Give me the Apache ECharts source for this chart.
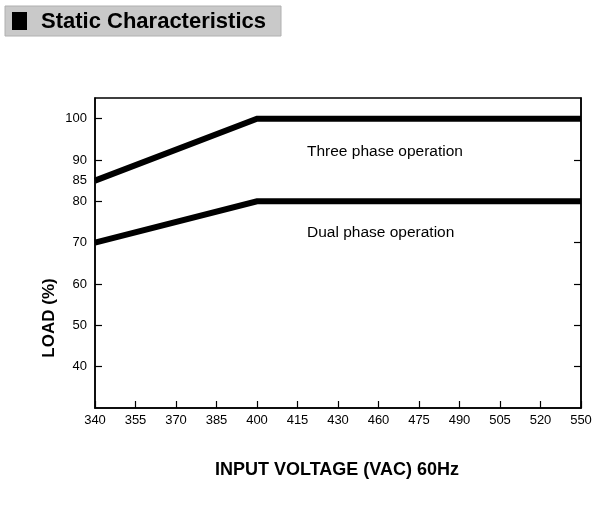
<!DOCTYPE html>
<html>
<head>
<meta charset="UTF-8">
<title>Static Characteristics</title>
<script src="https://cdn.jsdelivr.net/npm/echarts@6/dist/echarts.min.js"></script>
<style>
  body { margin: 0; background: #fff; }
  #chart { width: 609px; height: 507px; }
</style>
</head>
<body>
<div id="chart"></div>
<script>
// input voltage tick labels (evenly spaced on the original)
const voltages = ['340', '355', '370', '385', '400', '415', '430', '460', '475', '490', '505', '520', '550'];
const loadLabels = [40, 50, 60, 70, 80, 85, 90, 100];
const loadTicks = [40, 50, 60, 70, 80, 90, 100];
// curves: [voltage, load %]
const threePhase = [['340', 85], ['400', 100], ['550', 100]];
const dualPhase = [['340', 70], ['400', 80], ['550', 80]];

const chart = echarts.init(document.getElementById('chart'));
const font = '"Liberation Sans", Arial, sans-serif';

const tickStyle = { show: true, inside: true, length: 7, lineStyle: { color: '#000', width: 1.2 } };

chart.setOption({
  animation: false,
  grid: { left: 95, right: 28, top: 98, bottom: 99, show: true, borderColor: '#000', borderWidth: 1.5 },
  xAxis: {
    type: 'category', data: voltages, boundaryGap: false,
    axisLine: { show: true, lineStyle: { color: '#000', width: 1.5 } },
    axisTick: Object.assign({ interval: 0, alignWithLabel: true }, tickStyle),
    axisLabel: { color: '#000', fontSize: 13, fontFamily: font, margin: 6, interval: 0 },
    z: 5
  },
  yAxis: [
    {
      type: 'value', min: 30, max: 105, interval: 5, position: 'left', z: 5,
      splitLine: { show: false },
      axisLine: { show: true, lineStyle: { color: '#000', width: 1.5 } },
      axisTick: Object.assign({ customValues: loadTicks }, tickStyle),
      axisLabel: { color: '#000', fontSize: 13, fontFamily: font, margin: 8, customValues: loadLabels }
    },
    {
      type: 'value', min: 30, max: 105, interval: 5, position: 'right', z: 5,
      splitLine: { show: false },
      axisLine: { show: true, lineStyle: { color: '#000', width: 1.5 } },
      axisTick: Object.assign({ customValues: loadTicks }, tickStyle),
      axisLabel: { show: false }
    }
  ],
  series: [
    { name: 'Three phase operation', type: 'line', data: threePhase, symbol: 'none',
      lineStyle: { color: '#000', width: 6, cap: 'butt', join: 'miter' } },
    { name: 'Dual phase operation', type: 'line', data: dualPhase, symbol: 'none',
      lineStyle: { color: '#000', width: 6, cap: 'butt', join: 'miter' } }
  ],
  graphic: [
    { type: 'rect', shape: { x: 5, y: 6, width: 276, height: 30 },
      style: { fill: '#c9c9c9', stroke: '#b0b0b0', lineWidth: 1 } },
    { type: 'rect', shape: { x: 12, y: 12, width: 15, height: 18 }, style: { fill: '#000' } },
    { type: 'text', x: 41, y: 22,
      style: { text: 'Static Characteristics', font: 'bold 22px ' + font, fill: '#000', verticalAlign: 'middle' } },
    { type: 'text', left: 307, top: 144,
      style: { text: 'Three phase operation', font: '15.5px ' + font, fill: '#000' } },
    { type: 'text', left: 307, top: 225,
      style: { text: 'Dual phase operation', font: '15.5px ' + font, fill: '#000' } },
    { type: 'text', x: 49, y: 318, rotation: Math.PI / 2,
      style: { text: 'LOAD (%)', font: 'bold 17px ' + font, fill: '#000', align: 'center', verticalAlign: 'middle' } },
    { type: 'text', x: 337, y: 470,
      style: { text: 'INPUT VOLTAGE (VAC) 60Hz', font: 'bold 18px ' + font, fill: '#000', align: 'center', verticalAlign: 'middle' } }
  ]
});
</script>
</body>
</html>
